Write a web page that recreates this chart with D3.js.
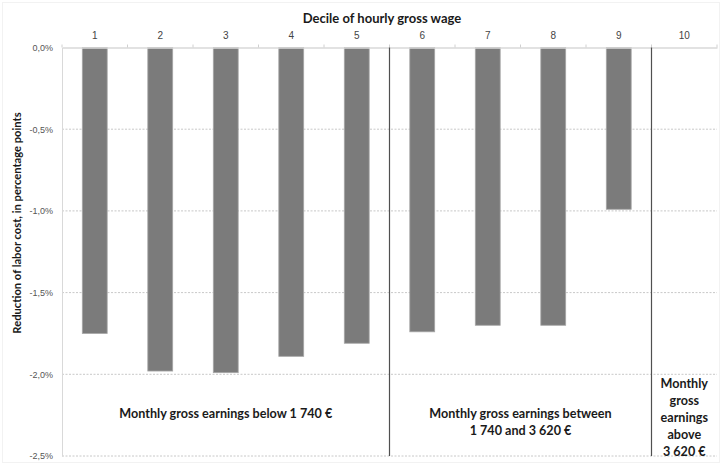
<!DOCTYPE html>
<html>
<head>
<meta charset="utf-8">
<script src="https://cdn.jsdelivr.net/npm/d3@7"></script>
<style>
  body { margin: 0; background: #fff; }
  svg { font-family: Lato, "Open Sans", sans-serif; }
</style>
</head>
<body>
<div id="chart"></div>
<script>
// deciles of hourly gross wage
var deciles = ['1', '2', '3', '4', '5', '6', '7', '8', '9', '10'];
// reduction of labor cost, in percentage points
var reduction = [-1.75, -1.98, -1.99, -1.89, -1.81, -1.74, -1.70, -1.70, -0.99, 0];
var yTicks = [0, -0.5, -1.0, -1.5, -2.0, -2.5];
// vertical separators are placed after these deciles
var separatorsAfter = ['5', '9'];
var groups = [
  { from: '1', to: '5', lines: ['Monthly gross earnings below 1 740 €'] },
  { from: '6', to: '9', lines: ['Monthly gross earnings between', '1 740 and 3 620 €'] },
  { from: '10', to: '10', lines: ['Monthly', 'gross', 'earnings', 'above', '3 620 €'] }
];

var width = 722, height = 465;
var margin = { top: 47.5, right: 5, bottom: 9, left: 62 };

var svg = d3.select('#chart').append('svg')
  .attr('width', width)
  .attr('height', height);

// faint chart border
svg.append('rect')
  .attr('x', 2.5).attr('y', 2.5)
  .attr('width', width - 5).attr('height', height - 5)
  .attr('fill', 'none')
  .attr('stroke', '#f2f2f2');

var x = d3.scaleBand()
  .domain(deciles)
  .range([margin.left, width - margin.right])
  .paddingInner(0.62)
  .paddingOuter(0.31);

var y = d3.scaleLinear()
  .domain([0, -2.5])
  .range([margin.top, height - margin.bottom]);

var step = x.step();
var left = margin.left, right = width - margin.right;
var fmt = function(d) { return d3.format('.1f')(d).replace('.', ',').replace('−', '-') + '%'; };

// dotted gridlines
svg.append('g')
  .selectAll('line')
  .data(yTicks.filter(function(d) { return d !== 0; }))
  .enter().append('line')
  .attr('x1', left).attr('x2', right)
  .attr('y1', function(d) { return y(d); })
  .attr('y2', function(d) { return y(d); })
  .attr('stroke', '#c8c8c8')
  .attr('stroke-dasharray', '2,1.5');

// y axis
var yAxis = svg.append('g')
  .attr('transform', 'translate(' + left + ',0)')
  .call(d3.axisLeft(y).tickValues(yTicks).tickFormat(fmt).tickSize(0).tickPadding(9));
yAxis.select('.domain').attr('stroke', '#d9d9d9');
yAxis.selectAll('text')
  .attr('fill', '#555')
  .style('font-size', '9px');

// bars
svg.append('g')
  .selectAll('rect')
  .data(deciles.map(function(d, i) { return { decile: d, value: reduction[i] }; }))
  .enter().append('rect')
  .attr('x', function(d) { return x(d.decile); })
  .attr('y', y(0))
  .attr('width', x.bandwidth())
  .attr('height', function(d) { return y(d.value) - y(0); })
  .attr('fill', '#7b7b7b')
  .attr('stroke', '#a6a6a6')
  .attr('stroke-width', 0.8);

// top x axis at zero
var xAxis = svg.append('g')
  .attr('transform', 'translate(0,' + y(0) + ')')
  .call(d3.axisTop(x).tickSize(0).tickPadding(9));
xAxis.select('.domain').attr('stroke', '#d9d9d9').attr('stroke-width', 1.5);
xAxis.selectAll('text')
  .attr('fill', '#444')
  .style('font-size', '10px');

// small tick marks at category boundaries
svg.append('g')
  .selectAll('line')
  .data(d3.range(deciles.length + 1))
  .enter().append('line')
  .attr('x1', function(i) { return left + i * step; })
  .attr('x2', function(i) { return left + i * step; })
  .attr('y1', y(0) - 3)
  .attr('y2', y(0))
  .attr('stroke', '#d0d0d0');

// separators between earnings groups
svg.append('g')
  .selectAll('line')
  .data(separatorsAfter)
  .enter().append('line')
  .attr('x1', function(d) { return x(d) + (x.step() + x.bandwidth()) / 2; })
  .attr('x2', function(d) { return x(d) + (x.step() + x.bandwidth()) / 2; })
  .attr('y1', y(0))
  .attr('y2', y(-2.5))
  .attr('stroke', '#505050')
  .attr('stroke-width', 1.2);

// group annotations
var groupLabels = svg.append('g')
  .attr('font-weight', 'bold')
  .attr('fill', '#1a1a1a')
  .style('font-size', '12.6px')
  .attr('text-anchor', 'middle');

groups.forEach(function(g) {
  var cx = (x(g.from) + x(g.to) + x.bandwidth()) / 2;
  var lineH = 17;
  // tall stacked label starts right under the -2,0% line
  var y0 = g.lines.length > 2 ? y(-2.0) + 14 : y(-2.0) + 44;
  g.lines.forEach(function(t, i) {
    groupLabels.append('text')
      .attr('x', cx)
      .attr('y', y0 + i * lineH)
      .text(t);
  });
});

// axis titles
svg.append('text')
  .attr('x', 382)
  .attr('y', 23)
  .attr('text-anchor', 'middle')
  .attr('font-weight', 'bold')
  .style('font-size', '13px')
  .attr('fill', '#1a1a1a')
  .text('Decile of hourly gross wage');

svg.append('text')
  .attr('transform', 'translate(21,223) rotate(-90)')
  .attr('text-anchor', 'middle')
  .attr('font-weight', 'bold')
  .style('font-size', '11.2px')
  .attr('fill', '#1a1a1a')
  .text('Reduction of labor cost, in percentage points');
</script>
</body>
</html>
